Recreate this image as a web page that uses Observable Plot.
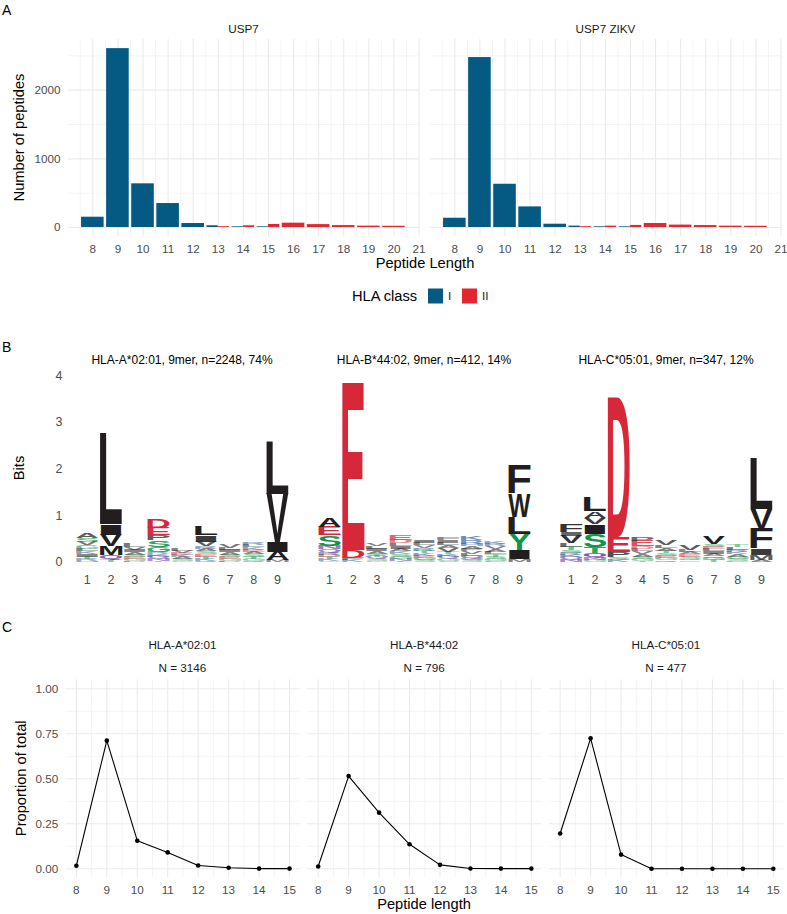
<!DOCTYPE html>
<html>
<head>
<meta charset="utf-8">
<script src="https://cdn.jsdelivr.net/npm/d3@7"></script>
<script src="https://cdn.jsdelivr.net/npm/@observablehq/plot@0.6"></script>
<style>
  html, body { margin: 0; padding: 0; background: #ffffff; }
  #figure { position: relative; width: 787px; height: 914px; overflow: hidden; background: #ffffff; }
</style>
</head>
<body>
<div id="figure"></div>
<script>
// ---------------- shared styling ----------------
const UI_FONT = '"Liberation Sans", Arial, Helvetica, sans-serif';
const LETTER_FONT = '"Liberation Sans", Arial, Helvetica, sans-serif';
const CLASS_COLORS = ["#045a82", "#e3262f"];
const GRID = "#ebebeb";

// ---------------- panel A: peptide length counts ----------------
const hlaClasses = ["I", "II"];
const peptideLengths = [8, 9, 10, 11, 12, 13, 14, 15, 16, 17, 18, 19, 20];
const usp7ClassI  = [150, 2605, 636, 349, 58, 25, 10, 10, null, null, null, null, null];
const usp7ClassII = [null, null, null, null, null, 12, 25, 44, 63, 42, 28, 20, 18];
const zikvClassI  = [135, 2475, 630, 300, 48, 20, 10, 10, null, null, null, null, null];
const zikvClassII = [null, null, null, null, null, 12, 20, 30, 58, 35, 28, 20, 18];
const lengthTicksA = [8, 9, 10, 11, 12, 13, 14, 15, 16, 17, 18, 19, 20, 21];
const lengthMinorA = [7.5, 8.5, 9.5, 10.5, 11.5, 12.5, 13.5, 14.5, 15.5, 16.5, 17.5, 18.5, 19.5, 20.5];
const countTicks = [0, 1000, 2000];
const countMinor = [500, 1500, 2500];

// ---------------- panel B: sequence logos (bits per residue, stacked bottom to top) ----------------
const logoPositions = [1, 2, 3, 4, 5, 6, 7, 8, 9];
const bitTicks = [0, 1, 2, 3, 4];
const logoA0201 = [
  [["N", .03], ["R", .04], ["T", .05], ["I", .05], ["K", .06], ["L", .06], ["G", .07], ["V", .07], ["S", .09], ["A", .10]],
  [["T", .05], ["Q", .10], ["M", .19], ["V", .24], ["I", .23], ["L", 1.95]],
  [["P", .03], ["G", .04], ["E", .04], ["S", .05], ["A", .05], ["I", .05], ["V", .06], ["L", .07]],
  [["T", .03], ["N", .04], ["Q", .05], ["K", .05], ["R", .04], ["G", .12], ["S", .15], ["P", .10], ["E", .16], ["D", .18]],
  [["G", .03], ["S", .04], ["A", .04], ["K", .04], ["E", .05], ["V", .04], ["L", .05]],
  [["Q", .03], ["K", .04], ["T", .05], ["E", .05], ["S", .06], ["A", .06], ["R", .05], ["V", .10], ["I", .14], ["L", .20]],
  [["P", .03], ["G", .04], ["E", .04], ["S", .05], ["A", .05], ["I", .05], ["L", .05], ["V", .07]],
  [["Q", .03], ["G", .04], ["T", .05], ["S", .05], ["A", .05], ["E", .05], ["K", .05], ["L", .05], ["R", .06]],
  [["M", .04], ["A", .18], ["I", .21], ["V", 1.04], ["L", 1.12]]
];
const logoB4402 = [
  [["G", .03], ["K", .04], ["T", .04], ["D", .05], ["R", .05], ["Q", .07], ["N", .07], ["S", .23], ["E", .18], ["A", .19]],
  [["K", .04], ["P", .05], ["D", .17], ["E", 3.60]],
  [["G", .03], ["S", .04], ["Q", .05], ["T", .05], ["A", .06], ["I", .05], ["L", .06], ["V", .06]],
  [["T", .03], ["N", .04], ["G", .05], ["S", .06], ["K", .05], ["A", .06], ["I", .06], ["L", .06], ["D", .07], ["E", .10]],
  [["S", .04], ["G", .05], ["E", .05], ["K", .06], ["T", .05], ["R", .06], ["V", .05], ["L", .05], ["I", .06]],
  [["S", .03], ["G", .04], ["Q", .05], ["K", .05], ["T", .05], ["V", .08], ["A", .06], ["L", .06], ["I", .05], ["F", .05]],
  [["S", .04], ["G", .04], ["Q", .05], ["L", .05], ["V", .06], ["P", .05], ["A", .05], ["H", .05], ["R", .08], ["K", .09]],
  [["E", .03], ["G", .04], ["S", .05], ["T", .05], ["L", .05], ["A", .06], ["V", .06], ["R", .05], ["K", .04]],
  [["M", .06], ["I", .20], ["Y", .35], ["L", .36], ["W", .50], ["F", .61]]
];
const logoC0501 = [
  [["N", .05], ["Q", .06], ["K", .05], ["R", .04], ["S", .06], ["T", .07], ["L", .08], ["V", .15], ["I", .09], ["F", .15]],
  [["G", .04], ["N", .04], ["Q", .11], ["T", .14], ["S", .28], ["I", .20], ["V", .14], ["A", .14], ["L", .30]],
  [["K", .05], ["S", .06], ["P", .11], ["E", .32], ["D", 2.99]],
  [["T", .03], ["G", .04], ["S", .05], ["A", .05], ["V", .06], ["L", .05], ["D", .06], ["E", .12], ["P", .08]],
  [["Q", .04], ["G", .05], ["E", .05], ["S", .06], ["T", .05], ["A", .06], ["L", .06], ["V", .10]],
  [["G", .03], ["Q", .04], ["S", .05], ["E", .05], ["A", .04], ["L", .05], ["V", .10]],
  [["T", .04], ["G", .05], ["Q", .04], ["A", .05], ["I", .05], ["L", .06], ["E", .04], ["S", .06], ["V", .17]],
  [["E", .03], ["S", .04], ["G", .05], ["A", .05], ["K", .05], ["R", .05], ["L", .06], ["T", .05]],
  [["A", .05], ["M", .10], ["I", .14], ["F", .43], ["V", .43], ["L", 1.09]]
];
const chemistryNames = ["polar", "neutral", "basic", "acidic", "hydrophobic"];
const chemistryColors = ["#109648", "#5e239d", "#255c99", "#d62839", "#221e1f"];
const chemistryOf = {
  G: "polar", S: "polar", T: "polar", Y: "polar", C: "polar",
  N: "neutral", Q: "neutral",
  K: "basic", R: "basic", H: "basic",
  D: "acidic", E: "acidic",
  A: "hydrophobic", V: "hydrophobic", L: "hydrophobic", I: "hydrophobic",
  P: "hydrophobic", W: "hydrophobic", F: "hydrophobic", M: "hydrophobic"
};

// ---------------- panel C: length distribution per allele ----------------
const lengthsC = [8, 9, 10, 11, 12, 13, 14, 15];
const lengthMinorC = [8.5, 9.5, 10.5, 11.5, 12.5, 13.5, 14.5];
const propA0201 = [0.017, 0.712, 0.156, 0.091, 0.018, 0.006, 0.001, 0.001];
const propB4402 = [0.013, 0.515, 0.312, 0.136, 0.022, 0.002, 0.001, 0.001];
const propC0501 = [0.196, 0.725, 0.079, 0, 0, 0, 0, 0];
const propTicks = [0, 0.25, 0.5, 0.75, 1];
const propMinor = [0.125, 0.375, 0.625, 0.875];

// ---------------- helpers ----------------
const fig = document.getElementById("figure");
function mount(node, left, top) {
  node.style.position = "absolute";
  node.style.left = left + "px";
  node.style.top = top + "px";
  fig.appendChild(node);
  return node;
}
const baseStyle = {
  fontFamily: UI_FONT, fontSize: "11.7px", color: "#4d4d4d",
  background: "none", overflow: "visible"
};
function gridMarks(xMajor, xMinor, yMajor, yMinor) {
  return [
    Plot.ruleY(yMinor, {stroke: GRID, strokeWidth: 0.55}),
    Plot.ruleX(xMinor, {stroke: GRID, strokeWidth: 0.55}),
    Plot.ruleY(yMajor, {stroke: GRID, strokeWidth: 1.1}),
    Plot.ruleX(xMajor, {stroke: GRID, strokeWidth: 1.1})
  ];
}

// bars of one dataset, dodged where both HLA classes occur at the same length
function barPanel(valsI, valsII, frame) {
  const rows = [];
  peptideLengths.forEach((len, i) => {
    const present = [[hlaClasses[0], valsI[i]], [hlaClasses[1], valsII[i]]].filter(([, v]) => v != null);
    const w = 0.9 / present.length;
    present.forEach(([cls, v], j) => rows.push({
      len, cls, v, x1: len - 0.45 + j * w, x2: len - 0.45 + (j + 1) * w
    }));
  });
  return Plot.plot({
    width: frame.ml + frame.pw + frame.mr, height: 262,
    marginLeft: frame.ml, marginRight: frame.mr, marginTop: 39, marginBottom: 26,
    style: baseStyle,
    x: {domain: [7.03, 21.02], ticks: lengthTicksA, tickSize: 0, tickPadding: 8.5, label: null, tickFormat: d => String(d)},
    y: {domain: [-131, 2738], ticks: countTicks, tickSize: 0, tickPadding: 8, label: null,
        axis: frame.showY ? "left" : null, tickFormat: d => String(d)},
    color: {domain: hlaClasses, range: CLASS_COLORS},
    marks: [
      ...gridMarks(lengthTicksA, lengthMinorA, countTicks, countMinor),
      Plot.rect(rows, {x1: "x1", x2: "x2", y1: 0, y2: "v", fill: "cls"})
    ]
  });
}

// stretch each glyph so that its ink fills its slot in the stack;
// very short glyphs are drawn lighter, as their thin strokes read in print
function fitLetters(plot, rows, fillFrac) {
  const x = plot.scale("x"), y = plot.scale("y");
  const ctx = document.createElement("canvas").getContext("2d");
  ctx.font = `bold 100px ${LETTER_FONT}`;
  const w = (x.apply(2) - x.apply(1)) * fillFrac;
  const nodes = plot.querySelectorAll('g[aria-label="text"] > text');
  nodes.forEach((node, i) => {
    const d = rows[i];
    const m = ctx.measureText(d.letter);
    const inkW = m.actualBoundingBoxLeft + m.actualBoundingBoxRight;
    const inkH = m.actualBoundingBoxAscent + m.actualBoundingBoxDescent;
    const top = y.apply(d.y1), bottom = y.apply(d.y0);
    const left = x.apply(d.pos) - w / 2;
    ["x", "y", "dx", "dy"].forEach(a => node.removeAttribute(a));
    node.setAttribute("text-anchor", "start");
    node.setAttribute("font-size", "100");
    node.setAttribute("font-weight", "bold");
    node.setAttribute("fill-opacity", Math.min(1, 0.35 + (bottom - top) / 12).toFixed(2));
    node.setAttribute("transform",
      `translate(${left},${top}) scale(${w / inkW},${(bottom - top) / inkH}) ` +
      `translate(${m.actualBoundingBoxLeft},${m.actualBoundingBoxAscent})`);
  });
}

function logoPanel(cols, frame) {
  const rows = [];
  cols.forEach((stack, k) => {
    let base = 0;
    stack.forEach(([letter, bits]) => {
      rows.push({pos: logoPositions[k], letter, group: chemistryOf[letter], y0: base, y1: base + bits});
      base += bits;
    });
  });
  const plot = Plot.plot({
    width: frame.ml + frame.pw + frame.mr, height: 240,
    marginLeft: frame.ml, marginRight: frame.mr, marginTop: 20, marginBottom: 33.3,
    style: {...baseStyle, fontSize: "12.5px"},
    x: {domain: [0.5, 9.5], ticks: logoPositions, tickSize: 0, tickPadding: 13.3, label: null, tickFormat: d => String(d)},
    y: {domain: [0, 4], ticks: bitTicks, tickSize: 0, tickPadding: 12.8, label: null,
        axis: frame.showY ? "left" : null, tickFormat: d => String(d)},
    color: {domain: chemistryNames, range: chemistryColors},
    marks: [
      Plot.text(rows, {
        x: "pos", y: d => (d.y0 + d.y1) / 2, text: "letter", fill: "group",
        fontSize: 20, fontWeight: "bold", fontFamily: LETTER_FONT
      })
    ]
  });
  fitLetters(plot, rows, 0.94);
  return plot;
}

function proportionPanel(values, frame) {
  const rows = lengthsC.map((len, i) => ({len, p: values[i]}));
  return Plot.plot({
    width: frame.ml + frame.pw + frame.mr, height: 254,
    marginLeft: frame.ml, marginRight: frame.mr, marginTop: 19.3, marginBottom: 36.7,
    style: baseStyle,
    x: {domain: [7.65, 15.35], ticks: lengthsC, tickSize: 0, tickPadding: 7.5, label: null, tickFormat: d => String(d)},
    y: {domain: [-0.05, 1.05], ticks: propTicks, tickSize: 0, tickPadding: 7.5, label: null,
        axis: frame.showY ? "left" : null, tickFormat: d3.format(".2f")},
    marks: [
      ...gridMarks(lengthsC, lengthMinorC, propTicks, propMinor),
      Plot.line(rows, {x: "len", y: "p", stroke: "#000000", strokeWidth: 1.1}),
      Plot.dot(rows, {x: "len", y: "p", r: 2.3, fill: "#000000"})
    ]
  });
}

// ---------------- build the figure ----------------
mount(barPanel(usp7ClassI, usp7ClassII, {ml: 68, pw: 351, mr: 1, showY: true}), 0, 0);
mount(barPanel(zikvClassI, zikvClassII, {ml: 10, pw: 351, mr: 6, showY: false}), 420, 0);

mount(logoPanel(logoA0201, {ml: 74.8, pw: 214.1, mr: 1.1, showY: true}), 0, 355);
mount(logoPanel(logoB4402, {ml: 17.1, pw: 213.8, mr: 9.1, showY: false}), 300, 355);
mount(logoPanel(logoC0501, {ml: 18.8, pw: 214.0, mr: 14.2, showY: false}), 540, 355);

mount(proportionPanel(propA0201, {ml: 65.2, pw: 234.5, mr: 4, showY: true}), 0, 660);
mount(proportionPanel(propB4402, {ml: 4, pw: 234.5, mr: 4, showY: false}), 302.9, 660);
mount(proportionPanel(propC0501, {ml: 4, pw: 234.5, mr: 3, showY: false}), 544.6, 660);

// ---------------- titles, strip labels, legend ----------------
const overlay = d3.create("svg")
  .attr("width", 787).attr("height", 914)
  .attr("font-family", UI_FONT)
  .style("position", "absolute").style("left", "0px").style("top", "0px")
  .style("pointer-events", "none");

function addText(x, y, str, size, opts = {}) {
  const t = overlay.append("text")
    .attr("font-size", size)
    .attr("fill", opts.fill || "#000000")
    .attr("text-anchor", opts.anchor || "start")
    .text(str);
  if (opts.rotate) t.attr("transform", `translate(${x},${y}) rotate(-90)`);
  else t.attr("x", x).attr("y", y);
  return t;
}

// panel A
addText(2, 15, "A", 14);
addText(243.5, 33.4, "USP7", 11.7, {anchor: "middle", fill: "#1a1a1a"});
addText(605.5, 33.4, "USP7 ZIKV", 11.7, {anchor: "middle", fill: "#1a1a1a"});
addText(23.5, 137.5, "Number of peptides", 14.67, {anchor: "middle", rotate: true});
addText(425, 268, "Peptide Length", 14.67, {anchor: "middle"});

// legend
addText(352, 301.2, "HLA class", 14.67);
const legendKeys = [{x: 428, lx: 448}, {x: 462, lx: 482}];
hlaClasses.forEach((cls, i) => {
  overlay.append("rect").attr("x", legendKeys[i].x).attr("y", 288.5).attr("width", 15).attr("height", 15)
    .attr("fill", CLASS_COLORS[i]);
  addText(legendKeys[i].lx, 300.2, cls, 11.7, {fill: "#1a1a1a"});
});

// panel B
addText(2, 352, "B", 14);
addText(182, 364, "HLA-A*02:01, 9mer, n=2248, 74%", 12, {anchor: "middle"});
addText(424, 364, "HLA-B*44:02, 9mer, n=412, 14%", 12, {anchor: "middle"});
addText(666, 364, "HLA-C*05:01, 9mer, n=347, 12%", 12, {anchor: "middle"});
addText(24, 468, "Bits", 14.67, {anchor: "middle", rotate: true});

// panel C
addText(2, 632, "C", 14);
const stripC = [
  {cx: 182.5, allele: "HLA-A*02:01", n: "N = 3146"},
  {cx: 424.2, allele: "HLA-B*44:02", n: "N = 796"},
  {cx: 665.9, allele: "HLA-C*05:01", n: "N = 477"}
];
stripC.forEach(s => {
  addText(s.cx, 649, s.allele, 11.7, {anchor: "middle", fill: "#1a1a1a"});
  addText(s.cx, 672, s.n, 11.7, {anchor: "middle", fill: "#1a1a1a"});
});
addText(25.5, 778.3, "Proportion of total", 14.67, {anchor: "middle", rotate: true});
addText(424, 909, "Peptide length", 14.67, {anchor: "middle"});

fig.appendChild(overlay.node());
</script>
</body>
</html>
